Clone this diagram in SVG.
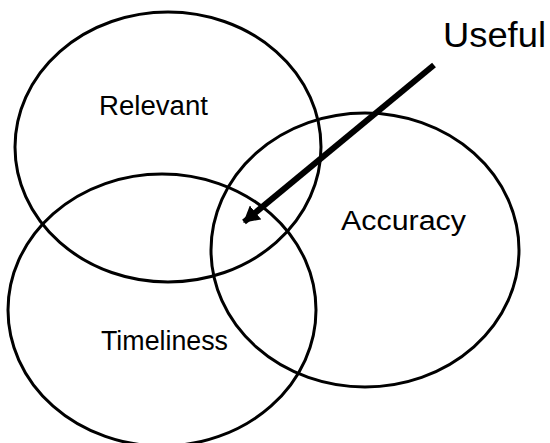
<svg xmlns="http://www.w3.org/2000/svg" width="550" height="443" viewBox="0 0 550 443">
  <style>
    .set { fill: none; stroke: #000; stroke-width: 3; }
    .label { font-family: "Liberation Sans", "DejaVu Sans", sans-serif; font-size: 27px; fill: #000; }
    .pointer { stroke: #000; stroke-width: 6; fill: none; }
  </style>
  <defs>
    <marker id="head" viewBox="0 0 16 18" refX="15" refY="9" markerWidth="16" markerHeight="18" orient="auto" markerUnits="userSpaceOnUse">
      <path d="M0,0 L16,9 L0,18 z" fill="#000"/>
    </marker>
  </defs>
  <rect width="550" height="443" fill="#fff"/>

  <g id="relevant">
    <ellipse class="set" cx="168" cy="147" rx="153" ry="135"/>
    <text class="label" x="99" y="115" textLength="109" lengthAdjust="spacingAndGlyphs">Relevant</text>
  </g>

  <g id="timeliness">
    <ellipse class="set" cx="162" cy="310" rx="154" ry="136"/>
    <text class="label" x="101" y="350" textLength="127" lengthAdjust="spacingAndGlyphs">Timeliness</text>
  </g>

  <g id="accuracy">
    <ellipse class="set" cx="365" cy="250" rx="154" ry="137"/>
    <text class="label" x="341" y="230" textLength="125" lengthAdjust="spacingAndGlyphs">Accuracy</text>
  </g>

  <g id="useful">
    <text class="label" x="443" y="47" style="font-size:35px" textLength="103" lengthAdjust="spacingAndGlyphs">Useful</text>
  </g>

  <g id="connectors">
    <line class="pointer" x1="434" y1="65" x2="244" y2="222" marker-end="url(#head)"/>
  </g>
</svg>
